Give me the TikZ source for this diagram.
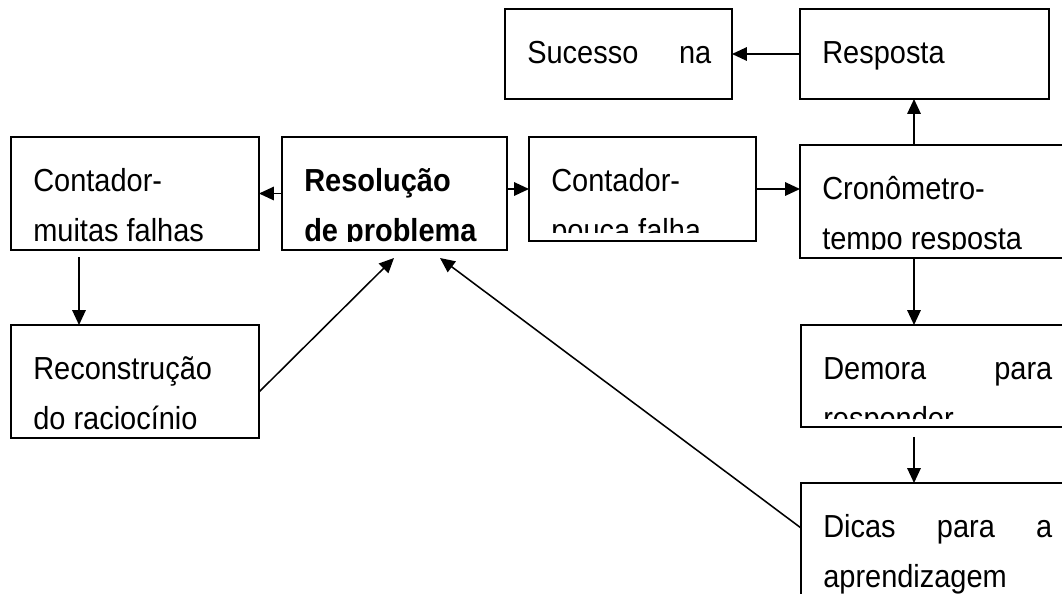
\documentclass[tikz,border=0pt]{standalone}
\usepackage{graphicx}
\usepackage{fontspec}
\setmainfont{Liberation Sans}
\usetikzlibrary{arrows.meta}
\newlength\pxl
\setlength\pxl{0.025cm}
\tikzset{
  box/.style={draw, line width=1.1pt, inner sep=0pt, outer sep=0pt},
  txt/.style={anchor=base west, inner sep=0pt, font=\fontsize{20.6}{24}\selectfont},
  arr/.style={line width=1.1pt, -{Triangle[length=10.5pt,width=9.5pt]}}
}
% name, left, top, width, height, first line, second line
\newcommand{\tbox}[7]{
  \node[box, minimum width=#4\pxl, minimum height=#5\pxl] (#1) at (#2+#4/2,#3+#5/2) {};
  \begin{scope}
    \clip (#1.north west) rectangle ([yshift=9\pxl]#1.south east);
    \node[txt] (#1-a) at (#2+22,#3+54) {\scalebox{1}[1.1]{#6}};
    \node[txt] (#1-b) at (#2+22,#3+104) {\scalebox{1}[1.1]{#7}};
  \end{scope}
}

\begin{document}
\begin{tikzpicture}[x=0.025cm,y=-0.025cm]
\useasboundingbox (0,0) rectangle (1062,593);
\clip (0,0) rectangle (1062,593);

% draw boxes
\tbox{suc}{505}{9}{227}{90}{\makebox[184\pxl][s]{Sucesso\hfill na}}{}
\tbox{resp}{800}{9}{249}{90}{Resposta}{}
\tbox{cmf}{11}{137}{248}{113}{Contador-}{muitas falhas}
\tbox{res}{282}{137}{225}{113}{\textbf{Resolução}}{\textbf{de problema}}
\tbox{cpf}{529}{137}{227}{104}{Contador-}{pouca falha}
\tbox{cron}{800}{145}{273}{113}{Cronômetro-}{tempo resposta}
\tbox{rec}{11}{325}{248}{113}{Reconstrução}{do raciocínio}
\tbox{dem}{801}{325}{272}{102}{\makebox[229\pxl][s]{Demora\hfill para}}{responder}
\tbox{dic}{801}{483}{272}{157}{\makebox[229\pxl][s]{Dicas\hfill para\hfill a}}{aprendizagem}

% free ends of the arrows
\coordinate (vx) at (914,0);
\coordinate (lx) at (79,0);
\coordinate (recOut) at (259,392);
\coordinate (dicOut) at (801,528);
\coordinate (resInA) at (394,258);
\coordinate (resInB) at (440,258);

% draw arrows
\draw[arr] (resp.west) -- (suc.east);
\draw[arr] (res.west) -- (cmf.east);
\draw[arr] (cpf.west -| res.east) -- (cpf.west);
\draw[arr] (cpf.east) -- (cpf.east -| cron.west);
\draw[arr] (vx |- cron.north) -- (vx |- resp.south);
\draw[arr] (vx |- cron.south) -- (vx |- dem.north);
\draw[arr, shorten <=7pt] (vx |- dem.south) -- (vx |- dic.north);
\draw[arr, shorten <=5pt] (lx |- cmf.south) -- (lx |- rec.north);
\draw[arr] (recOut) -- (resInA);
\draw[arr] (dicOut) -- (resInB);

\end{tikzpicture}
\end{document}
